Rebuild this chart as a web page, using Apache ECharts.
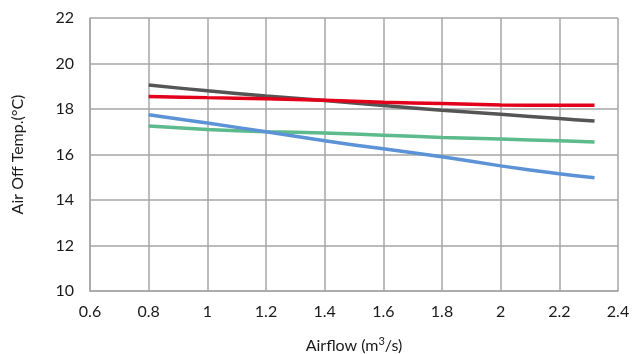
<!DOCTYPE html>
<html>
<head>
<meta charset="utf-8">
<script src="https://cdn.jsdelivr.net/npm/echarts@6/dist/echarts.min.js"></script>
<style>
  html, body { margin: 0; padding: 0; background: #fff; }
  #main { width: 632px; height: 354px; }
</style>
</head>
<body>
<div id="main"></div>
<script>
    var airflow = [0.8, 1.0, 1.2, 1.4, 1.6, 1.8, 2.0, 2.2, 2.32];
    var grayLine = [19.05, 18.8, 18.57, 18.37, 18.15, 17.95, 17.77, 17.58, 17.47];
    var redLine = [18.55, 18.5, 18.45, 18.38, 18.3, 18.24, 18.18, 18.16, 18.16];
    var blueLine = [17.75, 17.38, 17.0, 16.6, 16.25, 15.9, 15.5, 15.15, 14.98];
    var greenLine = [17.25, 17.1, 17.0, 16.95, 16.85, 16.75, 16.68, 16.6, 16.55];

    function pairs(ys) {
        return airflow.map(function (x, i) { return [x, ys[i]]; });
    }

    var myChart = echarts.init(document.getElementById('main'));

    var fontName = 'Lato, "Open Sans", sans-serif';
    var gridLine = { lineStyle: { color: '#a6a6a6', width: 1.5 } };

    var option = {
        animation: false,
        grid: {
            left: 90,
            right: 14,
            top: 18,
            bottom: 63,
            outerBoundsMode: 'none',
            containLabel: false
        },
        xAxis: {
            type: 'value',
            min: 0.6,
            max: 2.4,
            interval: 0.2,
            name: '{a|Airflow (m}{sup|3}{a|/s)}',
            nameLocation: 'middle',
            nameGap: 45,
            nameTextStyle: {
                rich: {
                    a: { fontSize: 16, color: '#1a1a1a', fontFamily: fontName },
                    sup: { fontSize: 11, color: '#1a1a1a', fontFamily: fontName, verticalAlign: 'top', padding: [0, 0, 8, 0] }
                }
            },
            axisLine: { show: true, lineStyle: { color: '#a6a6a6', width: 1.5 } },
            axisTick: { show: false },
            splitLine: gridLine,
            axisLabel: {
                color: '#1a1a1a',
                fontSize: 16,
                fontFamily: fontName,
                margin: 13,
                formatter: function (v) { return String(+v.toFixed(1)); }
            }
        },
        yAxis: {
            type: 'value',
            min: 10,
            max: 22,
            interval: 2,
            name: 'Air Off Temp.(°C)',
            nameLocation: 'middle',
            nameGap: 64,
            nameTextStyle: { fontSize: 16, color: '#1a1a1a', fontFamily: fontName },
            axisLine: { show: true, lineStyle: { color: '#a6a6a6', width: 1.5 } },
            axisTick: { show: false },
            splitLine: gridLine,
            axisLabel: {
                color: '#1a1a1a',
                fontSize: 16,
                fontFamily: fontName,
                margin: 16
            }
        },
        series: [
            { name: 'gray', type: 'line', data: pairs(grayLine), smooth: 0.3, showSymbol: false, lineStyle: { color: '#555555', width: 3.5 } },
            { name: 'green', type: 'line', data: pairs(greenLine), smooth: 0.3, showSymbol: false, lineStyle: { color: '#5cba8c', width: 3.5 } },
            { name: 'blue', type: 'line', data: pairs(blueLine), smooth: 0.3, showSymbol: false, lineStyle: { color: '#5b93d6', width: 3.5 } },
            { name: 'red', type: 'line', data: pairs(redLine), smooth: 0.3, showSymbol: false, lineStyle: { color: '#e3001b', width: 3.5 } }
        ]
    };
    myChart.setOption(option);
</script>
</body>
</html>
